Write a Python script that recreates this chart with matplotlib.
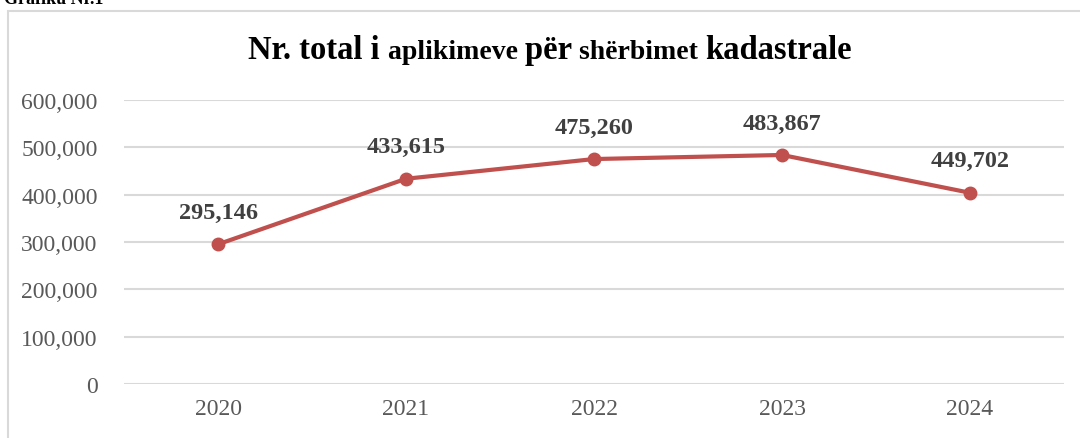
import matplotlib
matplotlib.use("Agg")
import matplotlib.pyplot as plt
from matplotlib.patches import Rectangle
from matplotlib.ticker import FuncFormatter

years = ["2020", "2021", "2022", "2023", "2024"]
# point heights as drawn in the picture (the 2024 point sits near 404,000)
values = [295146, 433615, 475260, 483867, 404000]
value_labels = ["295,146", "433,615", "475,260", "483,867", "449,702"]
title_parts = [("Nr. total i ", 23.5), ("aplikimeve ", 20), ("për ", 23.5),
               ("shërbimet ", 20), ("kadastrale", 23.5)]

plt.rcParams['font.family'] = ['Liberation Serif', 'DejaVu Serif']

fig = plt.figure(figsize=(10.8, 4.39), dpi=100)
ax = fig.add_axes([124 / 1080, 1 - 385 / 439, 940 / 1080, 284 / 439])

x = range(len(years))
ax.plot(x, values, color="#C0504D", linewidth=3, marker="o", markersize=9,
        solid_capstyle="round", zorder=3)
for xi, v, lab in zip(x, values, value_labels):
    ax.annotate(lab, (xi, v), xytext=(0, 23), textcoords="offset points",
                ha="center", va="center", fontsize=17.5, fontweight="bold",
                color="#404040")

ax.set_xlim(-0.5, len(years) - 0.5)
ax.set_ylim(0, 600000)
ax.set_yticks(range(0, 600001, 100000))
ax.yaxis.set_major_formatter(FuncFormatter(lambda v, p: f"{int(v):,}"))
ax.set_xticks(list(x))
ax.set_xticklabels(years)
ax.tick_params(axis="both", length=0, labelsize=17, labelcolor="#595959")
ax.tick_params(axis="y", pad=19)
ax.tick_params(axis="x", pad=10)
ax.grid(axis="y", color="#D9D9D9", linewidth=1.5)
ax.set_axisbelow(True)
for s in ax.spines.values():
    s.set_visible(False)

# outer chart frame (runs off right and bottom edges)
fig.patches.append(Rectangle((8 / 1080, -0.2), 1.2, 1.2 - 12 / 439,
                             transform=fig.transFigure, fill=False,
                             edgecolor="#D9D9D9", linewidth=1.5))
fig.text(4 / 1080, 1 - 4 / 439, "Grafiku Nr.1", fontsize=13, fontweight="bold",
         va="baseline", ha="left", color="black")

# title with mixed font sizes, centred
renderer = fig.canvas.get_renderer()
pieces = []
for txt, size in title_parts:
    t = fig.text(0, 1 - 59 / 439, txt, fontsize=size, fontweight="bold",
                 va="baseline", ha="left")
    pieces.append(t)
widths = [p.get_window_extent(renderer).width for p in pieces]
total = sum(widths)
start = 550 - total / 2
for p, w in zip(pieces, widths):
    p.set_x(start / 1080)
    start += w

fig.savefig("out.png", dpi=100)
